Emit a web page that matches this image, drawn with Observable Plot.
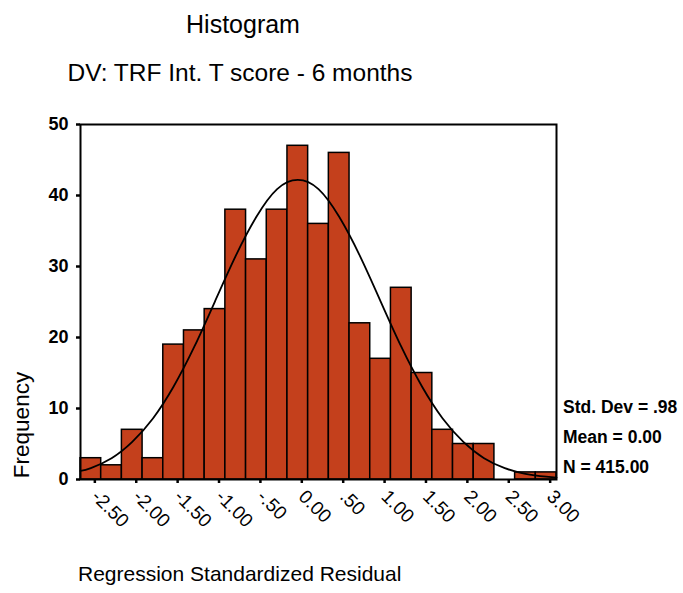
<!DOCTYPE html>
<html>
<head>
<meta charset="utf-8">
<script src="https://cdn.jsdelivr.net/npm/d3@7"></script>
<script src="https://cdn.jsdelivr.net/npm/@observablehq/plot@0.6"></script>
<style>
  html, body { margin: 0; padding: 0; background: white; }
  #chart svg { display: block; }
</style>
</head>
<body>
<div id="chart"></div>
<script>
// ---- data ----
const binCenters = [-2.5, -2.25, -2.0, -1.75, -1.5, -1.25, -1.0, -0.75, -0.5, -0.25, 0.0, 0.25, 0.5, 0.75, 1.0, 1.25, 1.5, 1.75, 2.0, 2.25, 2.5, 2.75, 3.0];
const counts     = [3, 2, 7, 3, 19, 21, 24, 38, 31, 38, 47, 36, 46, 22, 17, 27, 15, 7, 5, 5, 0, 1, 1];
const binWidth = 0.25;

// normal curve, points
const curveX = [-2.625, -2.5, -2.25, -2.0, -1.75, -1.5, -1.25, -1.0, -0.75, -0.5, -0.25, 0.0, 0.25, 0.5, 0.75, 1.0, 1.25, 1.5, 1.75, 2.0, 2.25, 2.5, 2.75, 3.0, 3.125];
const curveY = [1.2, 1.6, 3.0, 5.3, 8.6, 13.1, 18.7, 25.1, 31.5, 37.0, 40.9, 42.2, 40.9, 37.0, 31.5, 25.1, 18.7, 13.1, 8.6, 5.3, 3.0, 1.6, 0.8, 0.4, 0.26];

const xTickValues = [-2.5, -2.0, -1.5, -1.0, -0.5, 0.0, 0.5, 1.0, 1.5, 2.0, 2.5, 3.0];
const xTickLabels = ["-2.50", "-2.00", "-1.50", "-1.00", "-.50", "0.00", ".50", "1.00", "1.50", "2.00", "2.50", "3.00"];
const yTickValues = [0, 10, 20, 30, 40, 50];

const titleText = "Histogram";
const subtitleText = "DV: TRF Int. T score - 6 months";
const xLabel = "Regression Standardized Residual";
const yLabel = "Frequency";
const statsLines = ["Std. Dev = .98", "Mean = 0.00", "N = 415.00"];

// ---- build tables ----
const bins = binCenters.map((c, i) => ({lo: c - binWidth / 2, hi: c + binWidth / 2, count: counts[i]}));
const curve = curveX.map((x, i) => ({x, y: curveY[i]}));
const xLabelMap = new Map(xTickValues.map((v, i) => [v, xTickLabels[i]]));

const FONT = "'Liberation Sans', Arial, Helvetica, sans-serif";

const svg = Plot.plot({
  width: 683,
  height: 593,
  marginLeft: 80,
  marginRight: 127,
  marginTop: 124,
  marginBottom: 114,
  style: {background: "white", fontFamily: FONT, color: "black"},
  x: {domain: [-2.625, 3.125]},
  y: {domain: [0, 50]},
  marks: [
    Plot.rectY(bins, {x1: "lo", x2: "hi", y: "count", fill: "#c4401c", stroke: "black", strokeWidth: 1.5}),
    Plot.line(curve, {x: "x", y: "y", curve: "natural", stroke: "black", strokeWidth: 1.8}),
    Plot.frame({stroke: "black", strokeWidth: 2}),
    Plot.axisY({ticks: yTickValues, tickSize: 4, tickPadding: 8, tickFormat: d => String(d), label: null, fontSize: 18, fontWeight: "bold", strokeWidth: 2.5}),
    Plot.axisX({ticks: xTickValues, tickSize: 4, tickPadding: 10, dx: 4, tickRotate: 45, tickFormat: d => xLabelMap.get(d), label: null, fontSize: 19, strokeWidth: 2.5})
  ]
});

const s = d3.select(svg);
const addText = (txt, x, y, size, opts = {}) => {
  const t = s.append("text")
    .attr("x", x).attr("y", y)
    .attr("font-family", FONT)
    .attr("font-size", size)
    .attr("fill", "black")
    .attr("text-anchor", opts.anchor || "start")
    .attr("font-weight", opts.weight || "normal")
    .text(txt);
  if (opts.rotate) t.attr("transform", `rotate(${opts.rotate},${x},${y})`);
  return t;
};

addText(titleText, 243, 33, 25, {anchor: "middle"});
addText(subtitleText, 240, 81, 24.5, {anchor: "middle"});
addText(xLabel, 78, 581, 21);
addText(yLabel, 29, 425, 22.5, {anchor: "middle", rotate: -90});
statsLines.forEach((line, i) => addText(line, 563, 413 + i * 30, 17.5, {weight: "bold"}));

document.getElementById("chart").appendChild(svg);
</script>
</body>
</html>
